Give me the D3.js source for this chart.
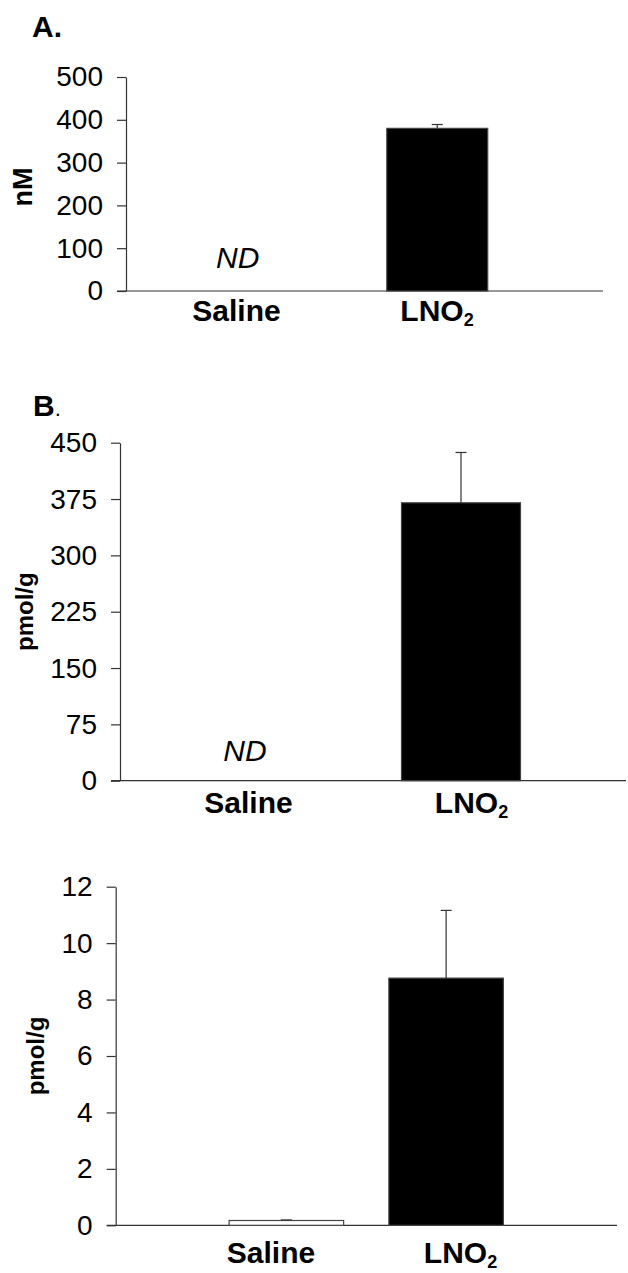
<!DOCTYPE html>
<html>
<head>
<meta charset="utf-8">
<script src="https://cdn.jsdelivr.net/npm/d3@7"></script>
<style>
  body { margin: 0; background: #fff; }
  text { font-family: "Liberation Sans", Arial, sans-serif; fill: #000; }
</style>
</head>
<body>
<script>
//categories shared by all three panels
var categories = ["Saline", "LNO2"];

//panel A - plasma, nM (null = not detected)
var valuesA = [null, 380],
    errorsA = [null, 9],
    ticksA = [0, 100, 200, 300, 400, 500];

//panel B - tissue, pmol/g
var valuesB = [null, 370],
    errorsB = [null, 67],
    ticksB = [0, 75, 150, 225, 300, 375, 450];

//panel C - tissue, pmol/g
var valuesC = [0.17, 8.76],
    errorsC = [0.02, 2.4],
    ticksC = [0, 2, 4, 6, 8, 10, 12];

var titles = ["A.", "B", ""],
    units = ["nM", "pmol/g", "pmol/g"];

window.onload = drawFigure();

function drawFigure(){

    var width = 628,
        height = 1273;

    var svg = d3.select("body")
        .append("svg")
        .attr("width", width)
        .attr("height", height);

    //frame of each panel on the page
    var panels = [
        {values: valuesA, errors: errorsA, ticks: ticksA, axisX: 126, top: 77, bottom: 291, xEnd: 603,
         band: [138, 537], pad: 0.494, labels: [236.5, 437], labelY: 321, unitX: 32, ndY: 268,
         fills: ["#fff", "#000"]},
        {values: valuesB, errors: errorsB, ticks: ticksB, axisX: 120, top: 442.7, bottom: 780.7, xEnd: 626,
         band: [137, 569], pad: 0.449, labels: [248.5, 471.5], labelY: 813, unitX: 33, ndY: 761,
         fills: ["#fff", "#000"]},
        {values: valuesC, errors: errorsC, ticks: ticksC, axisX: 115.7, top: 886.7, bottom: 1225.3, xEnd: 617,
         band: [206.5, 526], pad: 0.283, labels: [271, 460.5], labelY: 1263, unitX: 44, ndY: 0,
         fills: ["#fff", "#000"]}
    ];

    panels.forEach(function(p, i){

        var g = svg.append("g");

        var y = d3.scaleLinear()
            .domain([p.ticks[0], p.ticks[p.ticks.length - 1]])
            .range([p.bottom, p.top]);

        var x = d3.scaleBand()
            .domain(categories)
            .range(p.band)
            .paddingInner(p.pad)
            .paddingOuter(p.pad / 2);

        var lx = d3.scalePoint()
            .domain(categories)
            .range(p.labels);

        //y axis
        var yAxis = g.append("g")
            .attr("transform", "translate(" + p.axisX + ",0)")
            .call(d3.axisLeft(y)
                .tickValues(p.ticks)
                .tickSize(9)
                .tickSizeOuter(0)
                .tickPadding(14));
        yAxis.selectAll("path, line").attr("stroke", "#333").attr("stroke-width", 1.2);
        yAxis.selectAll("text")
            .style("font-family", "'Liberation Sans', Arial, sans-serif")
            .style("font-size", "28px")
            .attr("fill", "#000");

        //x axis line
        g.append("line")
            .attr("x1", p.axisX - 9)
            .attr("x2", p.xEnd)
            .attr("y1", y(0))
            .attr("y2", y(0))
            .attr("stroke", "#333")
            .attr("stroke-width", 1.2);

        var rows = categories.map(function(c, j){
            return {cat: c, value: p.values[j], err: p.errors[j], fill: p.fills[j]};
        });

        //bars
        g.selectAll(".bar")
            .data(rows.filter(function(d){ return d.value !== null; }))
            .enter()
            .append("rect")
            .attr("class", "bar")
            .attr("x", function(d){ return x(d.cat); })
            .attr("y", function(d){ return y(d.value); })
            .attr("width", x.bandwidth())
            .attr("height", function(d){ return y(0) - y(d.value); })
            .attr("fill", function(d){ return d.fill; })
            .attr("stroke", "#444")
            .attr("stroke-width", 1.2);

        //error bars (upper only)
        var eb = g.selectAll(".err")
            .data(rows.filter(function(d){ return d.value !== null; }))
            .enter()
            .append("g")
            .attr("class", "err")
            .attr("stroke", "#333")
            .attr("stroke-width", 1.2);
        eb.append("line")
            .attr("x1", function(d){ return x(d.cat) + x.bandwidth() / 2; })
            .attr("x2", function(d){ return x(d.cat) + x.bandwidth() / 2; })
            .attr("y1", function(d){ return y(d.value); })
            .attr("y2", function(d){ return y(d.value + d.err); });
        eb.append("line")
            .attr("x1", function(d){ return x(d.cat) + x.bandwidth() / 2 - 5.5; })
            .attr("x2", function(d){ return x(d.cat) + x.bandwidth() / 2 + 5.5; })
            .attr("y1", function(d){ return y(d.value + d.err); })
            .attr("y2", function(d){ return y(d.value + d.err); });

        //not detected
        g.selectAll(".nd")
            .data(rows.filter(function(d){ return d.value === null; }))
            .enter()
            .append("text")
            .attr("class", "nd")
            .attr("x", function(d){ return x(d.cat) + x.bandwidth() / 2; })
            .attr("y", p.ndY)
            .attr("text-anchor", "middle")
            .style("font-size", "30px")
            .style("font-style", "italic")
            .text("ND");

        //category labels, trailing digit as subscript
        var lab = g.selectAll(".cat")
            .data(categories)
            .enter()
            .append("text")
            .attr("class", "cat")
            .attr("x", function(d){ return lx(d); })
            .attr("y", p.labelY)
            .attr("text-anchor", "middle")
            .style("font-size", "30px")
            .style("font-weight", "bold");
        lab.each(function(d){
            var m = d.match(/^(.*?)(\d)$/),
                t = d3.select(this);
            if (m){
                t.append("tspan").text(m[1]);
                t.append("tspan")
                    .attr("dy", 5)
                    .style("font-size", "18px")
                    .text(m[2]);
            } else {
                t.text(d);
            }
        });

        //unit label
        g.append("text")
            .attr("transform", "translate(" + p.unitX + "," + ((p.top + p.bottom) / 2 + (i === 0 ? 3 : 0)) + ") rotate(-90)")
            .attr("text-anchor", "middle")
            .style("font-size", i === 0 ? "27px" : "24px")
            .style("font-weight", "bold")
            .text(units[i]);
    });

    //panel letters
    svg.append("text")
        .attr("x", 32)
        .attr("y", 37)
        .style("font-size", "30px")
        .style("font-weight", "bold")
        .text(titles[0]);

    var tb = svg.append("text")
        .attr("x", 33)
        .attr("y", 416)
        .style("font-size", "30px")
        .style("font-weight", "bold")
        .text(titles[1]);
    tb.append("tspan")
        .style("font-weight", "normal")
        .style("font-size", "22px")
        .text(".");
}
</script>
</body>
</html>
